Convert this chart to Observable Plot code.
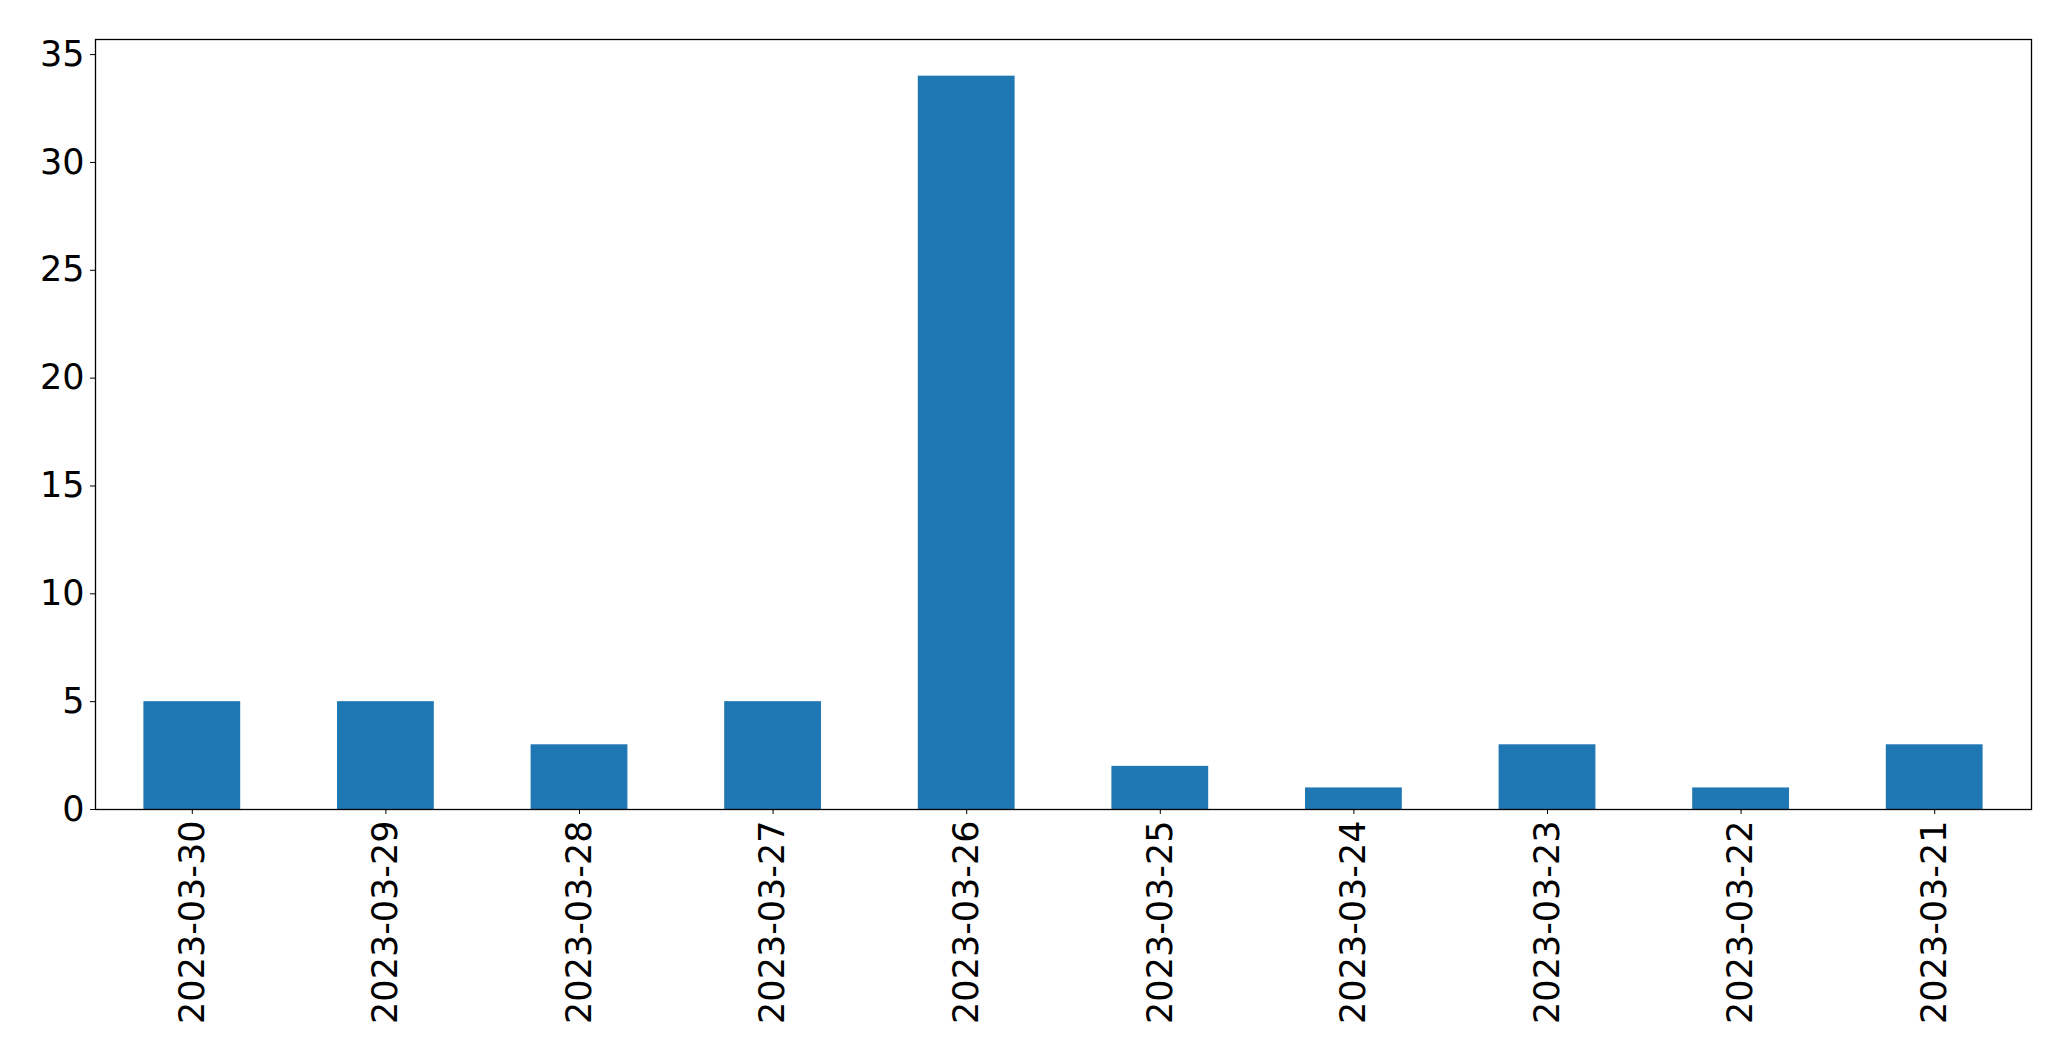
<!DOCTYPE html>
<html>
<head>
<meta charset="utf-8">
<script src="https://cdn.jsdelivr.net/npm/d3@7"></script>
<script src="https://cdn.jsdelivr.net/npm/@observablehq/plot@0.6"></script>
<style>
  html, body { margin: 0; padding: 0; background: #fff; }
  svg { display: block; }
</style>
</head>
<body>
<div id="chart"></div>
<script>
const dates = ["2023-03-30","2023-03-29","2023-03-28","2023-03-27","2023-03-26","2023-03-25","2023-03-24","2023-03-23","2023-03-22","2023-03-21"];
const counts = [5, 5, 3, 5, 34, 2, 1, 3, 1, 3];
const yTicks = [0, 5, 10, 15, 20, 25, 30, 35];

const data = dates.map((d, i) => ({date: d, count: counts[i]}));

const chart = Plot.plot({
  width: 2071,
  height: 1061,
  marginLeft: 95,
  marginRight: 40,
  marginTop: 39,
  marginBottom: 252,
  style: {fontFamily: "DejaVu Sans", fontSize: "35px", color: "#000", background: "#fff"},
  x: {type: "band", domain: dates, paddingInner: 0.5, paddingOuter: 0.25, align: 0.5, round: false, label: null},
  y: {domain: [0, 35.7], label: null},
  marks: [
    Plot.barY(data, {x: "date", y: "count", fill: "#1f77b4"}),
    Plot.axisY({ticks: yTicks, tickSize: 5, tickPadding: 6, fontSize: 35, label: null, stroke: "#000"}),
    Plot.axisX({tickSize: 5, tickPadding: 6, tickRotate: -90, fontSize: 35, label: null, stroke: "#000"}),
    Plot.frame({stroke: "#000", strokeWidth: 1.3})
  ]
});
document.getElementById("chart").appendChild(chart);
</script>
</body>
</html>
